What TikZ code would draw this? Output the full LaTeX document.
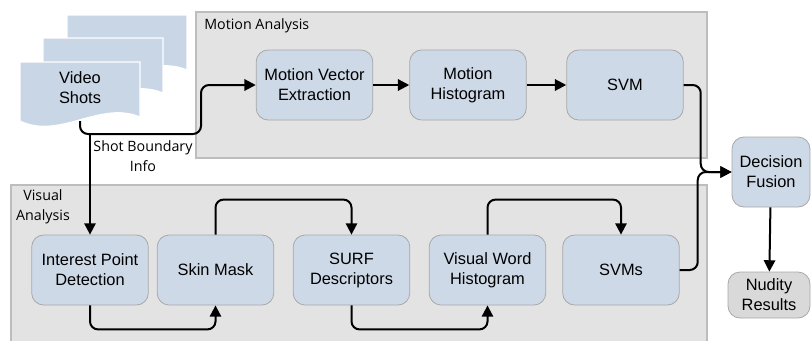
\documentclass[tikz,border=0pt]{standalone}
\usepackage{fontspec}
\setmainfont{Liberation Sans}
\newfontfamily\labfont{Open Sans}
\usetikzlibrary{arrows.meta}
\definecolor{boxfill}{HTML}{CED9E7}
\definecolor{boxline}{HTML}{A8A8A8}
\definecolor{docfill}{HTML}{C9D6E6}
\definecolor{panelfill}{HTML}{E3E3E3}
\definecolor{panelline}{HTML}{BDBDBD}
\definecolor{resfill}{HTML}{D9D9D9}
\tikzset{
  stage/.style={draw=boxline, line width=0.6pt, fill=boxfill, rounded corners=9pt,
    minimum width=87.5pt, minimum height=52.5pt, align=center, inner sep=1pt,
    font=\fontsize{12.3}{15}\selectfont},
  panel/.style={draw=panelline, line width=0.8pt, fill=panelfill},
  lab/.style={font=\labfont\fontsize{10.7}{15}\selectfont, align=center, inner sep=0pt},
  arr/.style={line width=1.5pt, rounded corners=6pt, -{Triangle[length=8.5pt,width=8.5pt]}},
  docsh/.style={fill=docfill, draw=white, line width=0.8pt}
}
\begin{document}
\begin{tikzpicture}[x=0.75pt,y=-0.75pt]
\useasboundingbox (0,0) rectangle (811,340);
\clip (0,0) rectangle (811,340);
% panels
\draw[panel] (196,12) rectangle (707,158);
\draw[panel] (11,185) rectangle (707,350);
\node[lab, anchor=base west] (mlab) at (204,29) {Motion Analysis};
\node[lab] (vlab) at (43,207) {Visual\\Analysis};
% documents
\def\docpath{(20,62) -- (140,62) -- (140,117) .. controls (100,100) and (60,140) .. (20,121) -- cycle}
\begin{scope}[shift={(47,-47)}]
  \draw[docsh] \docpath;
\end{scope}
\begin{scope}[shift={(23,-24)}]
  \draw[docsh] \docpath;
\end{scope}
\draw[docsh] \docpath;
\node[align=center, font=\fontsize{12.3}{15}\selectfont] (shots) at (80,88) {Video\\Shots};
\coordinate (docb) at (80,121);
% motion stages
\node[stage] (mve) at (314.5,85) {Motion Vector\\Extraction};
\node[stage] (mh) at (468,85) {Motion\\Histogram};
\node[stage] (svm) at (625,85) {SVM};
% visual stages
\node[stage] (ipd) at (90,270) {Interest Point\\Detection};
\node[stage] (sm) at (215.5,270) {Skin Mask};
\node[stage] (surf) at (351.5,270) {SURF\\Descriptors};
\node[stage] (vwh) at (487.5,270) {Visual Word\\Histogram};
\node[stage] (svms) at (621,270) {SVMs};
% fusion
\node[stage, minimum width=58.5pt] (df) at (771,172) {Decision\\Fusion};
\node[stage, fill=resfill, minimum width=61.5pt, minimum height=34.5pt] (nr) at (769,295) {Nudity\\Results};
% connectors
\coordinate (turn) at (201,134);
\coordinate (br) at (90,134);
\draw[arr] (docb) |- (turn) |- (mve.west);
\node[lab] (sbi) at (143,156) {Shot Boundary\\Info};
\draw[arr] (br) -- (ipd.north);
\draw[arr] (mve) -- (mh);
\draw[arr] (mh) -- (svm);
\draw[arr] (svm.east) -- ++(17,0) |- (df.west);
\draw[arr] (svms.east) -- ++(18,0) |- (df.west);
\draw[arr] (df) -- (nr);
\draw[arr] (ipd.south) -- ++(0,24) -| (sm.south);
\draw[arr] (sm.north) -- ++(0,-35) -| (surf.north);
\draw[arr] (surf.south) -- ++(0,24) -| (vwh.south);
\draw[arr] (vwh.north) -- ++(0,-35) -| (svms.north);
\end{tikzpicture}
\end{document}
